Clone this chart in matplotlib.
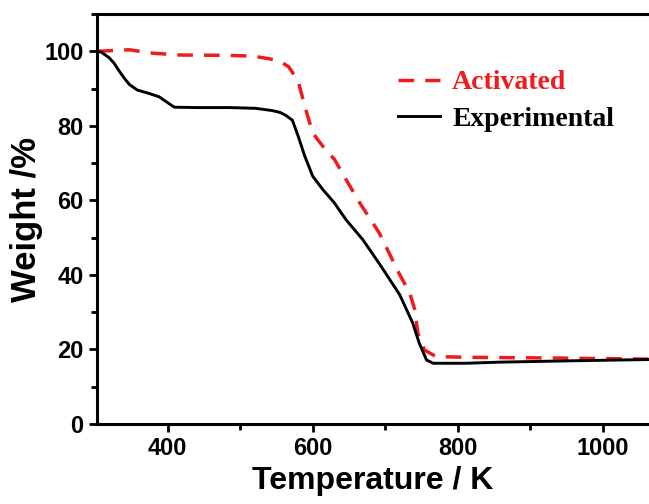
import matplotlib
matplotlib.use("Agg")
import matplotlib.pyplot as plt
from matplotlib.ticker import MultipleLocator

W, H = 6.49, 5.04

# Experimental TGA curve (K, wt %)
exp_temp = [303, 308, 319, 326, 333, 340, 347, 358, 374, 388, 400, 409, 439,
            485, 521, 544, 555, 563, 572, 580, 589, 600, 614, 630, 646, 669,
            692, 720, 738, 747, 757, 766, 812, 858, 940, 1000, 1064]
exp_weight = [100, 99.8, 98.3, 96.8, 94.7, 92.8, 91.1, 89.6, 88.7, 87.8, 86.2,
              85.0, 84.9, 84.9, 84.7, 84.1, 83.6, 82.8, 81.5, 77.2, 71.9, 66.5,
              62.9, 59.3, 54.8, 49.5, 43.0, 34.7, 27.1, 21.7, 17.2, 16.3, 16.3,
              16.6, 16.9, 17.1, 17.3]

# Activated sample
act_temp = [303, 347, 379, 416, 485, 517, 540, 555, 567, 580, 589, 600, 614,
            630, 646, 665, 692, 720, 734, 741, 745, 754, 770, 812, 940, 1064]
act_weight = [100, 100.4, 99.5, 99.0, 98.9, 98.7, 98.0, 97.3, 95.8, 92.0, 85.3,
              78.1, 74.5, 71.0, 65.6, 59.3, 51.2, 40.1, 35.1, 30.6, 24.4, 19.9,
              18.1, 17.9, 17.7, 17.4]

RED = '#ee1c1c'
BLACK = '#000000'

fig = plt.figure(figsize=(W, H), dpi=100)
ax = fig.add_axes([0.149, 0.1587, 0.851, 0.8135])

ax.plot(act_temp, act_weight, color=RED, lw=2.5, dashes=(4.5, 3.2), label='Activated')
ax.plot(exp_temp, exp_weight, color=BLACK, lw=2.1, label='Experimental')

ax.set_xlim(302, 1064)
ax.set_ylim(0, 110)
ax.xaxis.set_major_locator(MultipleLocator(200))
ax.xaxis.set_minor_locator(MultipleLocator(100))
ax.yaxis.set_major_locator(MultipleLocator(20))
ax.yaxis.set_minor_locator(MultipleLocator(10))

for side in ['left', 'bottom', 'top']:
    ax.spines[side].set_linewidth(2.2)
ax.spines['right'].set_visible(False)

ax.tick_params(which='major', direction='out', length=6, width=2, pad=3.5,
               labelsize=17)
ax.tick_params(which='minor', direction='out', length=4, width=2)
for lab in ax.get_xticklabels() + ax.get_yticklabels():
    lab.set_fontweight('bold')
    lab.set_family('Liberation Sans')

ax.set_xlabel('Temperature / K', fontsize=23, fontweight='bold',
              family='Liberation Sans', labelpad=4)
ax.set_ylabel('Weight /%', fontsize=25, fontweight='bold',
              family='Liberation Sans', labelpad=1)

leg = ax.legend(loc='upper left', bbox_to_anchor=(398 / 649, 1 - 70 / 504),
                bbox_transform=fig.transFigure, frameon=False,
                prop={'family': 'Liberation Serif', 'weight': 'bold', 'size': 20},
                handlelength=1.5, handletextpad=0.45, labelspacing=0.4,
                borderpad=0, borderaxespad=0, labelcolor='linecolor')

fig.savefig('out.png', dpi=100)
